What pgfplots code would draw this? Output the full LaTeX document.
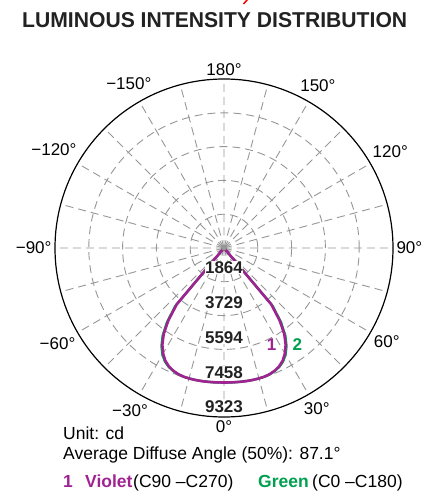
\documentclass[border=0pt]{standalone}
\usepackage{fontspec}
\setmainfont{Liberation Sans}
\usepackage{graphicx}
\usepackage{pgfplots}
\usepackage{pgfplotstable}
\pgfplotsset{compat=1.18}
\usepgfplotslibrary{polar}

\definecolor{violetc}{RGB}{160,35,145}
\definecolor{greenc}{RGB}{0,160,80}
\definecolor{gridc}{RGB}{150,150,150}
\definecolor{titlec}{RGB}{34,34,34}

% angle in degrees (0 = straight down), intensity in cd
\pgfplotstableread{
a v
-90 0
-50 0
-40 4050
-37.5 5050
-35 5800
-32.5 6330
-30 6720
-27.5 7010
-25 7200
-22.5 7320
-20 7400
-17.5 7440
-15 7450
-12.5 7450
-10 7445
-7.5 7438
-5 7430
-2.5 7422
0 7420
2.5 7422
5 7430
7.5 7438
10 7445
12.5 7450
15 7450
17.5 7440
20 7400
22.5 7320
25 7200
27.5 7010
30 6720
32.5 6330
35 5800
37.5 5050
40 4050
50 0
90 0
}\violetdata

\pgfplotstableread{
a v
-90 0
-50 0
-40 4180
-37.5 5170
-35 5900
-32.5 6420
-30 6790
-27.5 7060
-25 7230
-22.5 7340
-20 7410
-17.5 7445
-15 7450
-12.5 7450
-10 7445
-7.5 7438
-5 7430
-2.5 7422
0 7420
2.5 7422
5 7430
7.5 7438
10 7445
12.5 7450
15 7450
17.5 7445
20 7410
22.5 7340
25 7230
27.5 7060
30 6790
32.5 6420
35 5900
37.5 5170
40 4180
50 0
90 0
}\greendata

\begin{document}
\begin{tikzpicture}[x=1pt,y=1pt]
\begin{polaraxis}[
  at={(224pt,243pt)}, anchor=center,
  scale only axis, width=338pt, height=338pt,
  xmin=0, xmax=360, ymin=0, ymax=9323,
  xtick={0,30,...,330},
  xticklabels={90°,120°,150°,180°,−150°,−120°,−90°,−60°,−30°,0°,30°,60°},
  minor xtick={15,45,...,345},
  ytick={1864.6,3729.2,5593.8,7458.4},
  yticklabels={},
  grid=both,
  major grid style={gridc, dash pattern=on 8pt off 5pt, line width=0.9pt},
  minor grid style={gridc, dash pattern=on 8pt off 5pt, line width=0.9pt},
  tick style={draw=none},
  separate axis lines,
  x axis line style={black, line width=1.2pt},
  y axis line style={draw=none},
  xticklabel style={font=\fontsize{17}{17}\selectfont, text=black},
]
\addplot[greenc, line width=2.4pt, line join=round] table[x expr=\thisrow{a}-90, y=v] {\greendata};
\addplot[violetc, line width=2.6pt, line join=round] table[x expr=\thisrow{a}-90, y=v] {\violetdata};

\fill[gridc] (axis cs:0,0) circle (2.5pt);
\begin{scope}[every node/.style={font=\bfseries\fontsize{17}{17}\selectfont, text=titlec, fill=white, inner sep=0.5pt}]
\node at (axis cs:270,1100) {1864};
\node at (axis cs:270,3020) {3729};
\node at (axis cs:270,4930) {5594};
\node at (axis cs:270,6860) {7458};
\node at (axis cs:270,8760) {9323};
\end{scope}
\end{polaraxis}

\node[font=\bfseries\fontsize{17}{17}\selectfont, text=violetc] at (271.7,146) {1};
\node[font=\bfseries\fontsize{17}{17}\selectfont, text=greenc] at (297.3,146.7) {2};

\node[anchor=base west, inner sep=0, text=titlec] at (22,463)
  {\resizebox{385pt}{15pt}{\bfseries LUMINOUS INTENSITY DISTRIBUTION}};
\draw[red, line width=1.5pt] (243.5,487) -- (248,492);

\begin{scope}[every node/.style={anchor=base west, inner sep=0, font=\fontsize{17.5}{17.5}\selectfont}]
\node at (63,51.7) {Unit: cd};
\node at (63,31.7) {Average Diffuse Angle (50\%): 87.1°};
\node[text=violetc, font=\bfseries\fontsize{17.5}{17.5}\selectfont] at (63,3.7) {1};
\node[text=violetc, font=\bfseries\fontsize{17.5}{17.5}\selectfont] at (85,3.7) {Violet};
\node at (133,3.7) {(C90 –C270)};
\node[text=greenc, font=\bfseries\fontsize{17.5}{17.5}\selectfont] at (258,3.7) {Green};
\node at (312,3.7) {(C0 –C180)};
\end{scope}

\pgfresetboundingbox
\useasboundingbox (0,0) rectangle (426,491);
\end{tikzpicture}
\end{document}
